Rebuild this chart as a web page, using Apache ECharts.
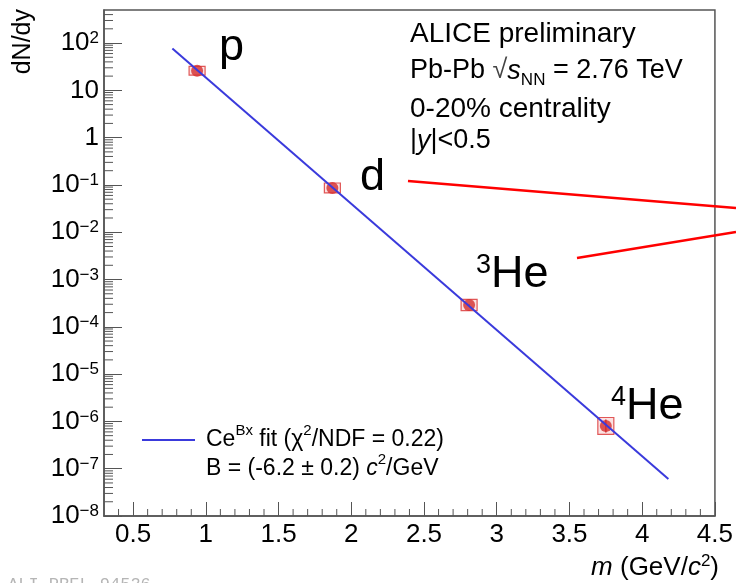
<!DOCTYPE html>
<html>
<head>
<meta charset="utf-8">
<script src="https://cdn.jsdelivr.net/npm/echarts@6/dist/echarts.min.js"></script>
<style>
  html, body { margin: 0; padding: 0; background: #ffffff; }
  #chart { width: 736px; height: 583px; }
</style>
</head>
<body>
<div id="chart"></div>
<script>
// Light (anti)nuclei yields vs. mass, Pb-Pb 0-20%
const species   = ['p', 'd', '3He', '4He'];
const mass      = [0.94, 1.87, 2.81, 3.75];          // GeV/c^2
const dNdy      = [26, 0.086, 2.9e-4, 8.0e-7];
const sysLow    = [21, 0.068, 2.2e-4, 5.3e-7];
const sysHigh   = [32, 0.11, 3.8e-4, 1.21e-6];
const statLow   = [25.5, 0.084, 2.8e-4, 5.8e-7];
const statHigh  = [26.5, 0.088, 3.0e-4, 1.1e-6];

// exponential fit C*exp(Bx), drawn between its end points
const fitX = [0.77, 4.18];
const fitY = [77, 6.05e-8];

// axis ticks
const xTickValues    = [0.5, 1, 1.5, 2, 2.5, 3, 3.5, 4, 4.5];
const yTickExponents = [-8, -7, -6, -5, -4, -3, -2, -1, 0, 1, 2];

const FONT = '"Liberation Sans", Arial, Helvetica, sans-serif';
const AXIS_COLOR = '#555555';
const X_MIN = 0.3, X_MAX = 4.5, Y_MIN = 1e-8, Y_MAX = 500;

// the vertical axis runs in decades: values are placed at log10(value)
const lg = function (v) { return Math.log10(v); };

// minor tick positions (axis furniture)
const minorTicks = [];
for (let i = 4; i <= 44; i++) {
  if (i % 5 !== 0) minorTicks.push([i / 10, lg(Y_MIN), 0]);
}
yTickExponents.forEach(function (e) {
  for (let k = 2; k <= 9; k++) {
    const v = k * Math.pow(10, e);
    if (v < Y_MAX) minorTicks.push([X_MIN, lg(v), 1]);
  }
});

const supMinus = function (e) { return e < 0 ? '\u2212' + (-e) : String(e); };

function yLabel(v) {
  const e = Math.round(v);
  if (Math.abs(v - e) > 1e-6 || yTickExponents.indexOf(e) < 0) return '';
  if (e === 0) return '{b|1}';
  if (e === 1) return '{b|10}';
  return '{b|10}{s|' + supMinus(e) + '}';
}
function xLabel(v) {
  for (let i = 0; i < xTickValues.length; i++) {
    if (Math.abs(xTickValues[i] - v) < 1e-6) return String(xTickValues[i]);
  }
  return '';
}

const chart = echarts.init(document.getElementById('chart'), null, { renderer: 'canvas' });

const sysData  = mass.map(function (m, i) { return [m, lg(sysLow[i]), lg(sysHigh[i])]; });
const statData = mass.map(function (m, i) { return [m, lg(statLow[i]), lg(statHigh[i])]; });
const ptData   = mass.map(function (m, i) { return [m, lg(dNdy[i])]; });
const fitData  = fitX.map(function (x, i) { return [x, lg(fitY[i])]; });

const option = {
  animation: false,
  backgroundColor: '#ffffff',
  grid: {
    left: 104, top: 10, right: 19, bottom: 67,
    show: true, borderColor: AXIS_COLOR, borderWidth: 1.5, backgroundColor: 'transparent'
  },
  xAxis: {
    type: 'value', min: X_MIN, max: X_MAX, splitNumber: 8,
    axisLine: { show: true, onZero: false, lineStyle: { color: AXIS_COLOR, width: 1.5 } },
    axisTick: { show: true, inside: true, length: 14, lineStyle: { color: AXIS_COLOR, width: 1 } },
    splitLine: { show: false },
    axisLabel: {
      margin: 6, color: '#000', fontFamily: FONT, fontSize: 26, lineHeight: 26,
      formatter: xLabel, hideOverlap: false, showMinLabel: false
    }
  },
  yAxis: {
    type: 'value', min: lg(Y_MIN), max: lg(Y_MAX), interval: 1,
    axisLine: { show: true, onZero: false, lineStyle: { color: AXIS_COLOR, width: 1.5 } },
    axisTick: { show: true, inside: true, length: 18, lineStyle: { color: AXIS_COLOR, width: 1 } },
    splitLine: { show: false },
    axisLabel: {
      margin: 5, color: '#000', formatter: yLabel, hideOverlap: false, showMaxLabel: false,
      rich: {
        b: { fontFamily: FONT, fontSize: 26, lineHeight: 26, color: '#000' },
        s: { fontFamily: FONT, fontSize: 17, lineHeight: 13, verticalAlign: 'top', color: '#000' }
      }
    }
  },
  legend: {
    left: 142, top: 423, itemWidth: 53, itemHeight: 2, padding: 0,
    data: [{ name: 'fit', icon: 'rect' }],
    formatter: function () { return '{b|Ce}{s|Bx}{b| fit (\u03c7}{s|2}{b|/NDF = 0.22)}'; },
    textStyle: {
      color: '#000', fontFamily: FONT, fontSize: 23, lineHeight: 34, padding: [0, 0, 0, 6],
      rich: {
        b: { fontFamily: FONT, fontSize: 23, lineHeight: 34, color: '#000' },
        s: { fontFamily: FONT, fontSize: 15, lineHeight: 12, verticalAlign: 'top', color: '#000' }
      }
    }
  },
  series: [
    {
      // systematic uncertainty boxes
      type: 'custom', name: 'sys', data: sysData, z: 3,
      renderItem: function (params, api) {
        const top = api.coord([api.value(0), api.value(2)]);
        const bot = api.coord([api.value(0), api.value(1)]);
        return {
          type: 'rect',
          shape: { x: top[0] - 8, y: top[1], width: 16, height: bot[1] - top[1] },
          style: { fill: 'rgba(235,90,90,0.18)', stroke: 'rgba(220,60,60,0.85)', lineWidth: 1.2 }
        };
      }
    },
    {
      // statistical uncertainty bars
      type: 'custom', name: 'stat', data: statData, z: 4,
      renderItem: function (params, api) {
        const top = api.coord([api.value(0), api.value(2)]);
        const bot = api.coord([api.value(0), api.value(1)]);
        return {
          type: 'line',
          shape: { x1: top[0], y1: top[1], x2: bot[0], y2: bot[1] },
          style: { stroke: '#d03030', lineWidth: 1.5 }
        };
      }
    },
    {
      type: 'scatter', name: 'data', data: ptData, z: 5,
      symbol: 'circle', symbolSize: 12,
      itemStyle: { color: '#d42e2e' }
    },
    {
      type: 'line', name: 'fit', data: fitData, z: 6,
      symbol: 'none', smooth: false,
      lineStyle: { color: '#3a3adc', width: 2 },
      itemStyle: { color: '#3a3adc' }
    },
    {
      // minor ticks on both axes
      type: 'custom', name: 'minorTicks', data: minorTicks, z: 7, silent: true,
      renderItem: function (params, api) {
        const p = api.coord([api.value(0), api.value(1)]);
        const isY = api.value(2) === 1;
        return {
          type: 'line',
          shape: isY ? { x1: p[0], y1: p[1], x2: p[0] + 9, y2: p[1] }
                     : { x1: p[0], y1: p[1], x2: p[0], y2: p[1] - 7 },
          style: { stroke: AXIS_COLOR, lineWidth: 1 }
        };
      }
    }
  ],
  graphic: [
    // y axis title
    {
      type: 'text', x: 23, y: 9, rotation: Math.PI / 2, z: 10,
      style: { text: 'dN/dy', fontFamily: FONT, fontSize: 25, fill: '#000',
               align: 'right', verticalAlign: 'middle', textAlign: 'right', textVerticalAlign: 'middle' }
    },
    // x axis title
    {
      type: 'text', z: 10,
      style: {
        x: 719, y: 568, align: 'right', verticalAlign: 'middle', textAlign: 'right', textVerticalAlign: 'middle',
        text: '{i|m}{b| (GeV/}{i|c}{s|2}{b|)}',
        rich: {
          b: { fontFamily: FONT, fontSize: 26, lineHeight: 30, fill: '#000' },
          i: { fontFamily: FONT, fontSize: 26, lineHeight: 30, fontStyle: 'italic', fill: '#000' },
          s: { fontFamily: FONT, fontSize: 17, lineHeight: 14, verticalAlign: 'top', fill: '#000' }
        }
      }
    },
    // info text
    {
      type: 'text', z: 10,
      style: { x: 410, y: 34, text: 'ALICE preliminary', fontFamily: FONT, fontSize: 28, fill: '#000',
               align: 'left', verticalAlign: 'middle', textAlign: 'left', textVerticalAlign: 'middle' }
    },
    {
      type: 'text', z: 10,
      style: {
        x: 410, y: 71, align: 'left', verticalAlign: 'middle', textAlign: 'left', textVerticalAlign: 'middle',
        text: '{b|Pb-Pb }{r|\u221a}{i|s}{n|NN}{b| = 2.76 TeV}',
        rich: {
          b: { fontFamily: FONT, fontSize: 27, lineHeight: 36, fill: '#000' },
          r: { fontFamily: FONT, fontSize: 27, lineHeight: 36, fill: '#444' },
          i: { fontFamily: FONT, fontSize: 27, lineHeight: 36, fontStyle: 'italic', fill: '#000' },
          n: { fontFamily: FONT, fontSize: 17, lineHeight: 10, verticalAlign: 'bottom', fill: '#000' }
        }
      }
    },
    {
      type: 'text', z: 10,
      style: { x: 410, y: 109, text: '0-20% centrality', fontFamily: FONT, fontSize: 28, fill: '#000',
               align: 'left', verticalAlign: 'middle', textAlign: 'left', textVerticalAlign: 'middle' }
    },
    {
      type: 'text', z: 10,
      style: {
        x: 410, y: 141, align: 'left', verticalAlign: 'middle', textAlign: 'left', textVerticalAlign: 'middle',
        text: '{b||}{i|y}{b||<0.5}',
        rich: {
          b: { fontFamily: FONT, fontSize: 27, lineHeight: 32, fill: '#000' },
          i: { fontFamily: FONT, fontSize: 27, lineHeight: 32, fontStyle: 'italic', fill: '#000' }
        }
      }
    },
    // particle labels
    {
      type: 'text', z: 10,
      style: { x: 219, y: 48, text: 'p', fontFamily: FONT, fontSize: 45, fill: '#000',
               align: 'left', verticalAlign: 'middle', textAlign: 'left', textVerticalAlign: 'middle' }
    },
    {
      type: 'text', z: 10,
      style: { x: 360, y: 178, text: 'd', fontFamily: FONT, fontSize: 45, fill: '#000',
               align: 'left', verticalAlign: 'middle', textAlign: 'left', textVerticalAlign: 'middle' }
    },
    {
      type: 'text', z: 10,
      style: {
        x: 476, y: 275, align: 'left', verticalAlign: 'middle', textAlign: 'left', textVerticalAlign: 'middle',
        text: '{s|3}{b|He}',
        rich: {
          b: { fontFamily: FONT, fontSize: 45, lineHeight: 46, fill: '#000' },
          s: { fontFamily: FONT, fontSize: 27, lineHeight: 29, verticalAlign: 'top', fill: '#000' }
        }
      }
    },
    {
      type: 'text', z: 10,
      style: {
        x: 611, y: 407, align: 'left', verticalAlign: 'middle', textAlign: 'left', textVerticalAlign: 'middle',
        text: '{s|4}{b|He}',
        rich: {
          b: { fontFamily: FONT, fontSize: 45, lineHeight: 46, fill: '#000' },
          s: { fontFamily: FONT, fontSize: 27, lineHeight: 29, verticalAlign: 'top', fill: '#000' }
        }
      }
    },
    // second legend line
    {
      type: 'text', z: 10,
      style: {
        x: 206, y: 469, align: 'left', verticalAlign: 'middle', textAlign: 'left', textVerticalAlign: 'middle',
        text: '{b|B = (-6.2 \u00b1 0.2) }{i|c}{s|2}{b|/GeV}',
        rich: {
          b: { fontFamily: FONT, fontSize: 23, lineHeight: 34, fill: '#000' },
          i: { fontFamily: FONT, fontSize: 23, lineHeight: 34, fontStyle: 'italic', fill: '#000' },
          s: { fontFamily: FONT, fontSize: 15, lineHeight: 12, verticalAlign: 'top', fill: '#000' }
        }
      }
    },
    // pointer lines
    {
      type: 'line', z: 20,
      shape: { x1: 408, y1: 181, x2: 736, y2: 208 },
      style: { stroke: '#ff0000', lineWidth: 2.5 }
    },
    {
      type: 'line', z: 20,
      shape: { x1: 577, y1: 258, x2: 736, y2: 232 },
      style: { stroke: '#ff0000', lineWidth: 2.5 }
    },
    // figure id
    {
      type: 'text', z: 10,
      style: { x: 8, y: 576, text: 'ALI-PREL-94526', fontFamily: '"Liberation Mono", "DejaVu Sans Mono", monospace',
               fontSize: 17, fill: '#b5b5b5', align: 'left', verticalAlign: 'top', textAlign: 'left', textVerticalAlign: 'top' }
    }
  ]
};

chart.setOption(option);
</script>
</body>
</html>
